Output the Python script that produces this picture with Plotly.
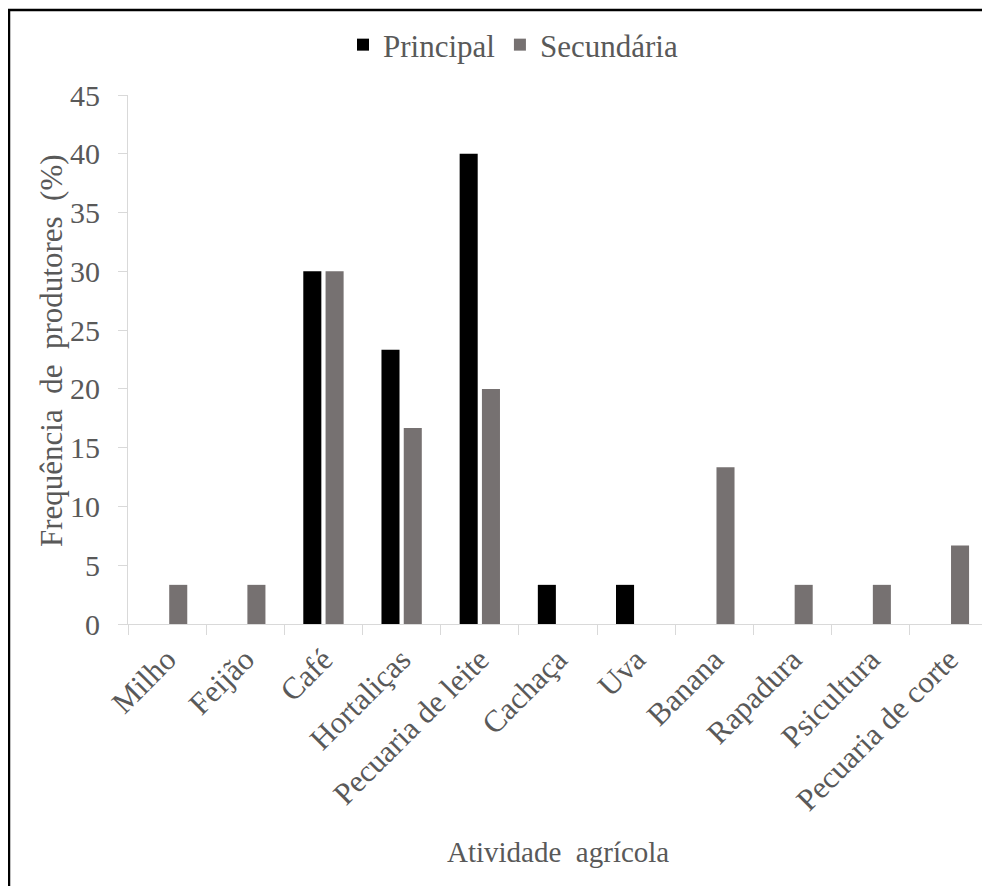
import plotly.graph_objects as go

categories = ["Milho", "Feijão", "Café", "Hortaliças", "Pecuaria de leite", "Cachaça",
              "Uva", "Banana", "Rapadura", "Psicultura", "Pecuaria de corte"]
principal = [0, 0, 30.0, 23.33, 40.0, 3.33, 3.33, 0, 0, 0, 0]
secundaria = [3.33, 3.33, 30.0, 16.67, 20.0, 0, 0, 13.33, 3.33, 3.33, 6.67]
y_ticks = [0, 5, 10, 15, 20, 25, 30, 35, 40, 45]

OFF = 8  # page body margin
W, H = 990 - OFF, 886 - OFF
L, R, T, B = 128 - OFF, 2, 95 - OFF, 886 - 624
PW, PH = W - L - R, H - T - B

def px(x):
    return (x - OFF - L) / PW

def py(y):
    return (624 - y) / PH

FONT = "Liberation Serif, Times New Roman, serif"
TXT = "#595959"
NB = "\u00a0"

fig = go.Figure()
fig.add_trace(go.Bar(x=categories, y=principal, name="Principal",
                     marker=dict(color="#000000", line=dict(width=0))))
fig.add_trace(go.Bar(x=categories, y=secundaria, name="Secundária",
                     marker=dict(color="#767171", line=dict(width=0))))

fig.update_layout(
    width=W, height=H,
    margin=dict(l=L, r=R, t=T, b=B, autoexpand=False),
    paper_bgcolor="white", plot_bgcolor="white",
    barmode="group", bargap=0.43, bargroupgap=0.19,
    font=dict(family=FONT, color=TXT, size=30),
    showlegend=True,
    legend=dict(orientation="h", x=px(513), xanchor="center", y=py(45), yanchor="middle",
                font=dict(family=FONT, color=TXT, size=31), itemwidth=30,
                bgcolor="rgba(0,0,0,0)", traceorder="normal"),
    xaxis=dict(type="category", showline=True, linecolor="#d9d9d9", linewidth=1,
               ticks="outside", tickson="boundaries", ticklen=10, tickcolor="#d9d9d9",
               tickangle=-45, tickfont=dict(family=FONT, color=TXT, size=31),
               ticklabelstandoff=4,
               showgrid=False, zeroline=False, fixedrange=True),
    yaxis=dict(range=[0, 45], tickvals=y_ticks, showline=True, linecolor="#d9d9d9",
               linewidth=1, ticks="outside", ticklen=9, tickcolor="#d9d9d9",
               tickfont=dict(family=FONT, color=TXT, size=30), ticklabelstandoff=12,
               showgrid=False, zeroline=False),
    annotations=[
        dict(text="Atividade" + NB + NB + "agrícola", xref="paper", yref="paper",
             x=px(558), y=py(852), xanchor="center", yanchor="middle", showarrow=False,
             font=dict(family=FONT, color=TXT, size=29)),
        dict(text="Frequência" + NB + NB + "de" + NB + NB + "produtores" + NB + NB + "(%)",
             xref="paper", yref="paper", x=px(51), y=py(351), xanchor="center",
             yanchor="middle", showarrow=False, textangle=-90,
             font=dict(family=FONT, color=TXT, size=31)),
    ],
    shapes=[
        dict(type="line", xref="paper", yref="paper", x0=px(8), x1=px(1000), y0=py(10), y1=py(10),
             line=dict(color="black", width=2.5)),
        dict(type="line", xref="paper", yref="paper", x0=px(9), x1=px(9), y0=py(9), y1=py(900),
             line=dict(color="black", width=2.5)),
    ],
)

fig.write_html("out.html")
